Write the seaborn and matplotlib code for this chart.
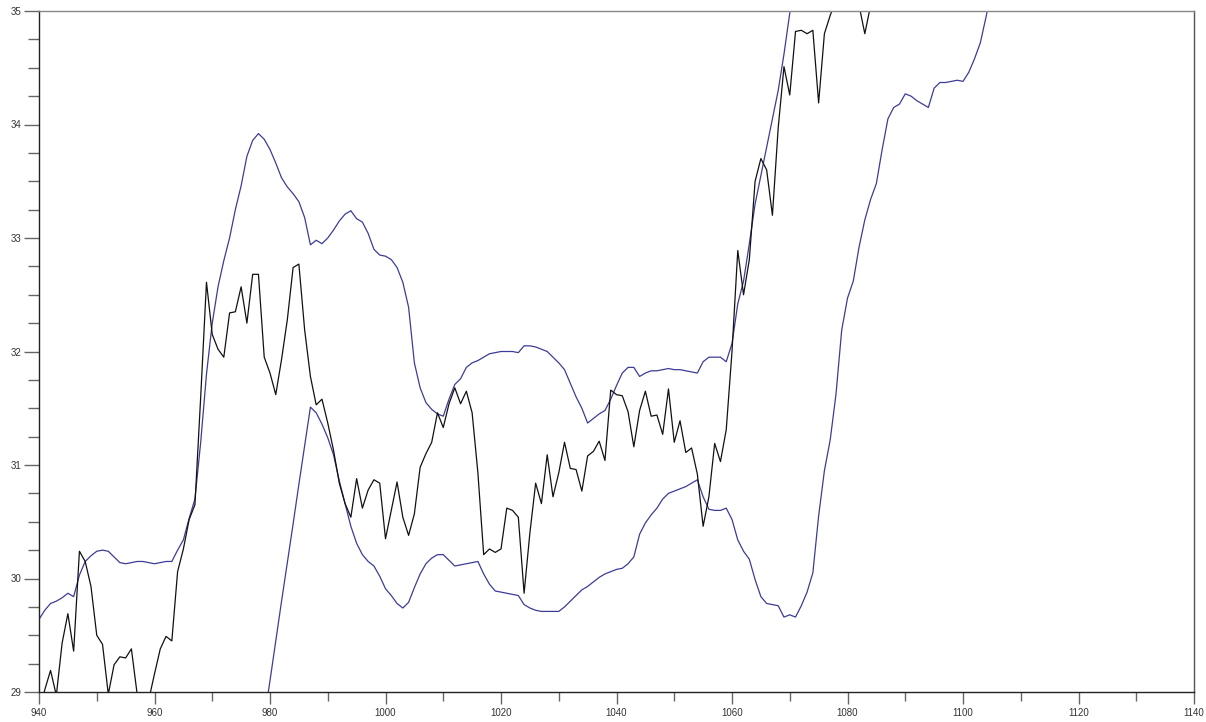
import numpy as np
import pandas as pd
import matplotlib
matplotlib.use('Agg')
import matplotlib.pyplot as plt
import seaborn as sns
from matplotlib.ticker import MultipleLocator

# price series (black), one value per step starting at 940
price_start = 940
price = [28.80, 29.02, 29.19, 28.97, 29.43, 29.69, 29.36, 30.24, 30.15, 29.93,
         29.50, 29.42, 28.98, 29.24, 29.31, 29.30, 29.38, 28.98, 28.80, 28.93,
         29.16, 29.38, 29.49, 29.45, 30.06, 30.26, 30.52, 30.65, 31.60, 32.61,
         32.15, 32.02, 31.95, 32.34, 32.35, 32.57, 32.25, 32.68, 32.68, 31.95,
         31.81, 31.62, 31.93, 32.28, 32.74, 32.77, 32.19, 31.78, 31.53, 31.58,
         31.37, 31.13, 30.84, 30.66, 30.54, 30.88, 30.62, 30.78, 30.87, 30.84,
         30.35, 30.60, 30.85, 30.54, 30.38, 30.57, 30.98, 31.10, 31.20, 31.46,
         31.33, 31.54, 31.68, 31.54, 31.65, 31.46, 30.93, 30.21, 30.26, 30.23,
         30.26, 30.62, 30.60, 30.54, 29.87, 30.40, 30.84, 30.66, 31.09, 30.72,
         30.93, 31.20, 30.97, 30.96, 30.77, 31.08, 31.12, 31.21, 31.04, 31.66,
         31.62, 31.61, 31.47, 31.16, 31.48, 31.65, 31.43, 31.44, 31.27, 31.67,
         31.20, 31.39, 31.11, 31.15, 30.92, 30.46, 30.72, 31.19, 31.03, 31.31,
         32.00, 32.89, 32.50, 32.81, 33.50, 33.70, 33.60, 33.20, 33.97, 34.51,
         34.26, 34.82, 34.83, 34.80, 34.83, 34.19, 34.80, 34.96, 35.10, 35.20,
         35.15, 35.10, 35.05, 34.80, 35.05, 35.20]

# first band (blue), starting at 940
upper_start = 940
upper = [29.64, 29.72, 29.78, 29.80, 29.83, 29.87, 29.84, 30.03, 30.15, 30.20,
         30.24, 30.25, 30.24, 30.19, 30.14, 30.13, 30.14, 30.15, 30.15, 30.14,
         30.13, 30.14, 30.15, 30.15, 30.25, 30.34, 30.53, 30.70, 31.20, 31.80,
         32.25, 32.57, 32.80, 33.00, 33.25, 33.46, 33.72, 33.86, 33.92, 33.87,
         33.78, 33.66, 33.53, 33.45, 33.39, 33.32, 33.18, 32.94, 32.98, 32.95,
         33.00, 33.07, 33.15, 33.21, 33.24, 33.17, 33.14, 33.04, 32.90, 32.85,
         32.84, 32.81, 32.74, 32.61, 32.39, 31.90, 31.68, 31.55, 31.49, 31.45,
         31.43, 31.58, 31.71, 31.76, 31.86, 31.90, 31.92, 31.95, 31.98, 31.99,
         32.00, 32.00, 32.00, 31.99, 32.05, 32.05, 32.04, 32.02, 32.00, 31.95,
         31.90, 31.84, 31.72, 31.60, 31.50, 31.37, 31.41, 31.45, 31.48, 31.58,
         31.70, 31.81, 31.86, 31.86, 31.78, 31.81, 31.83, 31.83, 31.84, 31.85,
         31.84, 31.84, 31.83, 31.82, 31.81, 31.91, 31.95, 31.95, 31.95, 31.91,
         32.07, 32.42, 32.62, 32.95, 33.30, 33.55, 33.80, 34.05, 34.30, 34.62,
         34.98, 35.30]

# second band (blue), starting at 979
lower_start = 979
lower = [28.76, 29.10, 29.45, 29.80, 30.14, 30.48, 30.83, 31.17, 31.51, 31.46,
         31.36, 31.24, 31.09, 30.86, 30.66, 30.46, 30.31, 30.21, 30.15, 30.11,
         30.02, 29.91, 29.85, 29.78, 29.74, 29.79, 29.92, 30.04, 30.13, 30.18,
         30.21, 30.21, 30.16, 30.11, 30.12, 30.13, 30.14, 30.15, 30.04, 29.95,
         29.89, 29.88, 29.87, 29.86, 29.85, 29.77, 29.74, 29.72, 29.71, 29.71,
         29.71, 29.71, 29.75, 29.80, 29.85, 29.90, 29.93, 29.97, 30.01, 30.04,
         30.06, 30.08, 30.09, 30.13, 30.19, 30.39, 30.49, 30.56, 30.62, 30.70,
         30.75, 30.77, 30.79, 30.81, 30.84, 30.87, 30.72, 30.61, 30.60, 30.60,
         30.62, 30.52, 30.34, 30.24, 30.17, 29.99, 29.84, 29.78, 29.77, 29.76,
         29.66, 29.68, 29.66, 29.76, 29.88, 30.05, 30.55, 30.95, 31.22, 31.62,
         32.19, 32.47, 32.62, 32.92, 33.16, 33.34, 33.48, 33.78, 34.05, 34.15,
         34.18, 34.27, 34.25, 34.21, 34.18, 34.15, 34.32, 34.37, 34.37, 34.38,
         34.39, 34.38, 34.46, 34.58, 34.72, 34.95, 35.20]

df_price = pd.DataFrame({'x': np.arange(price_start, price_start + len(price)), 'y': price})
df_upper = pd.DataFrame({'x': np.arange(upper_start, upper_start + len(upper)), 'y': upper})
df_lower = pd.DataFrame({'x': np.arange(lower_start, lower_start + len(lower)), 'y': lower})

sns.set_style('white')
plt.rcParams['font.family'] = ['Liberation Sans', 'DejaVu Sans']

fig = plt.figure(figsize=(12.06, 7.22), dpi=100)
ax = fig.add_axes([39 / 1206, 1 - 692 / 722, (1194 - 39) / 1206, (692 - 11) / 722])

band_color = '#3c3c96'
sns.lineplot(data=df_upper, x='x', y='y', color=band_color, linewidth=0.9, ax=ax)
sns.lineplot(data=df_lower, x='x', y='y', color=band_color, linewidth=0.9, ax=ax)
sns.lineplot(data=df_price, x='x', y='y', color='#111111', linewidth=0.9, ax=ax)

ax.set_xlim(940, 1140)
ax.set_ylim(29, 35)
ax.set_xlabel('')
ax.set_ylabel('')

ax.xaxis.set_major_locator(MultipleLocator(20))
ax.xaxis.set_minor_locator(MultipleLocator(10))
ax.yaxis.set_major_locator(MultipleLocator(1))
ax.yaxis.set_minor_locator(MultipleLocator(0.25))

ax.tick_params(axis='x', which='major', direction='out', length=8.5, width=1,
               color='#666666', labelsize=7, labelcolor='#333333', pad=3, bottom=True)
ax.tick_params(axis='x', which='minor', direction='out', length=6.5, width=1,
               color='#666666', bottom=True)
ax.tick_params(axis='y', which='major', direction='out', length=11, width=1,
               color='#666666', labelsize=7, labelcolor='#333333', pad=2, left=True)
ax.tick_params(axis='y', which='minor', direction='out', length=8, width=1,
               color='#666666', left=True)

for side in ['left', 'bottom']:
    ax.spines[side].set_color('#222222')
    ax.spines[side].set_linewidth(1)
ax.spines['top'].set_color('#888888')
ax.spines['top'].set_linewidth(1)
ax.spines['right'].set_color('#555555')
ax.spines['right'].set_linewidth(1)

plt.savefig('out.png', dpi=100)
